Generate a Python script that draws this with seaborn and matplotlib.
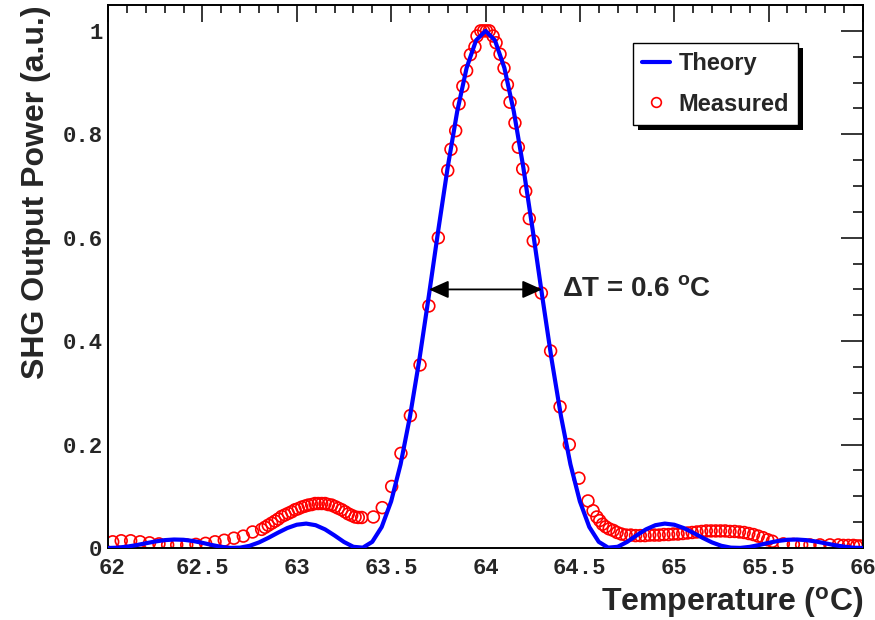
import numpy as np
import pandas as pd
import matplotlib
matplotlib.use("Agg")
import matplotlib.pyplot as plt
import seaborn as sns
from matplotlib.lines import Line2D
from matplotlib.patches import Rectangle, ArrowStyle
from matplotlib.transforms import IdentityTransform, ScaledTranslation
from matplotlib.ticker import MultipleLocator

# ---------------- data ----------------
theory_temp = [62.00, 62.05, 62.10, 62.15, 62.20, 62.25, 62.30, 62.35, 62.40, 62.45,
               62.50, 62.55, 62.60, 62.65, 62.70, 62.75, 62.80, 62.85, 62.90, 62.95,
               63.00, 63.05, 63.10, 63.15, 63.20, 63.25, 63.30, 63.35, 63.40, 63.45,
               63.50, 63.55, 63.60, 63.65, 63.70, 63.75, 63.80, 63.85, 63.90, 63.95,
               64.00, 64.05, 64.10, 64.15, 64.20, 64.25, 64.30, 64.35, 64.40, 64.45,
               64.50, 64.55, 64.60, 64.65, 64.70, 64.75, 64.80, 64.85, 64.90, 64.95,
               65.00, 65.05, 65.10, 65.15, 65.20, 65.25, 65.30, 65.35, 65.40, 65.45,
               65.50, 65.55, 65.60, 65.65, 65.70, 65.75, 65.80, 65.85, 65.90, 65.95,
               66.00]
theory_power = [0.0000, 0.0006, 0.0026, 0.0055, 0.0091, 0.0126, 0.0152, 0.0164, 0.0159, 0.0136,
                0.0100, 0.0058, 0.0022, 0.0002, 0.0007, 0.0042, 0.0108, 0.0197, 0.0295, 0.0386,
                0.0450, 0.0472, 0.0441, 0.0360, 0.0243, 0.0117, 0.0023, 0.0007, 0.0119, 0.0406,
                0.0901, 0.1617, 0.2546, 0.3653, 0.4881, 0.6150, 0.7368, 0.8440, 0.9284, 0.9817,
                1.0000, 0.9817, 0.9284, 0.8440, 0.7368, 0.6150, 0.4881, 0.3653, 0.2546, 0.1617,
                0.0901, 0.0406, 0.0119, 0.0007, 0.0023, 0.0117, 0.0243, 0.0360, 0.0441, 0.0472,
                0.0450, 0.0386, 0.0295, 0.0197, 0.0108, 0.0042, 0.0007, 0.0002, 0.0022, 0.0058,
                0.0100, 0.0136, 0.0159, 0.0164, 0.0152, 0.0126, 0.0091, 0.0055, 0.0026, 0.0006,
                0.0000]

meas_temp = [62.025, 62.07, 62.12, 62.17, 62.22, 62.27, 62.316, 62.364, 62.417, 62.466,
             62.517, 62.567, 62.616, 62.667, 62.717, 62.766, 62.814, 62.832, 62.849, 62.867,
             62.885, 62.902, 62.920, 62.938, 62.955, 62.973, 62.991, 63.008, 63.026, 63.044,
             63.061, 63.079, 63.097, 63.114, 63.132, 63.150, 63.167, 63.185, 63.203, 63.220,
             63.238, 63.256, 63.273, 63.291, 63.309, 63.326, 63.344, 63.406, 63.453, 63.503,
             63.552, 63.602, 63.653, 63.700, 63.750, 63.800, 63.817, 63.842, 63.860, 63.880,
             63.900, 63.920, 63.944, 63.955, 63.975, 63.990, 64.005, 64.020, 64.040, 64.056,
             64.077, 64.098, 64.116, 64.130, 64.156, 64.174, 64.197, 64.213, 64.232, 64.253,
             64.296, 64.345, 64.395, 64.444, 64.495, 64.543, 64.570, 64.590, 64.605, 64.620,
             64.637, 64.655, 64.677, 64.697, 64.720, 64.745, 64.770, 64.795, 64.820, 64.845,
             64.870, 64.895, 64.920, 64.945, 64.970, 64.995, 65.020, 65.045, 65.070, 65.095,
             65.120, 65.145, 65.170, 65.195, 65.220, 65.245, 65.270, 65.295, 65.320, 65.345,
             65.370, 65.395, 65.420, 65.445, 65.470, 65.495, 65.520, 65.578, 65.631, 65.675,
             65.719, 65.772, 65.825, 65.869, 65.896, 65.922, 65.949, 65.966, 65.984]
meas_power = [0.012, 0.014, 0.014, 0.012, 0.010, 0.008, 0.006, 0.006, 0.006, 0.007,
              0.009, 0.012, 0.015, 0.019, 0.023, 0.031, 0.036, 0.040, 0.044, 0.048,
              0.052, 0.056, 0.061, 0.064, 0.067, 0.070, 0.074, 0.076, 0.079, 0.081,
              0.083, 0.084, 0.086, 0.086, 0.086, 0.086, 0.084, 0.083, 0.080, 0.077,
              0.074, 0.070, 0.066, 0.063, 0.060, 0.059, 0.059, 0.060, 0.078, 0.119,
              0.183, 0.256, 0.354, 0.468, 0.600, 0.730, 0.771, 0.807, 0.859, 0.893,
              0.923, 0.954, 0.969, 0.990, 1.000, 1.000, 1.000, 1.000, 0.990, 0.977,
              0.955, 0.928, 0.896, 0.862, 0.822, 0.775, 0.733, 0.690, 0.637, 0.594,
              0.493, 0.381, 0.273, 0.200, 0.135, 0.091, 0.072, 0.060, 0.053, 0.046,
              0.041, 0.037, 0.034, 0.030, 0.027, 0.025, 0.025, 0.024, 0.024, 0.024,
              0.025, 0.025, 0.025, 0.026, 0.026, 0.027, 0.027, 0.028, 0.029, 0.030,
              0.031, 0.032, 0.033, 0.033, 0.033, 0.033, 0.033, 0.032, 0.032, 0.031,
              0.030, 0.028, 0.026, 0.023, 0.020, 0.016, 0.013, 0.008, 0.007, 0.006,
              0.006, 0.006, 0.006, 0.006, 0.005, 0.005, 0.005, 0.004, 0.004]

x_ticks = [62.0, 62.5, 63.0, 63.5, 64.0, 64.5, 65.0, 65.5, 66.0]
x_tick_labels = ["62", "62.5", "63", "63.5", "64", "64.5", "65", "65.5", "66"]
y_ticks = [0.0, 0.2, 0.4, 0.6, 0.8, 1.0]
y_tick_labels = ["0", "0.2", "0.4", "0.6", "0.8", "1"]

fwhm_start, fwhm_end, fwhm_level = 63.7, 64.3, 0.5

theory_df = pd.DataFrame({"Temperature": theory_temp, "Power": theory_power})
meas_df = pd.DataFrame({"Temperature": meas_temp, "Power": meas_power})

# ---------------- style ----------------
sns.set_style("white")
plt.rcParams["font.family"] = ["Liberation Sans", "DejaVu Sans"]
plt.rcParams["mathtext.fontset"] = "custom"
plt.rcParams["mathtext.rm"] = "Liberation Sans:bold"
plt.rcParams["mathtext.bf"] = "Liberation Sans:bold"
plt.rcParams["mathtext.it"] = "Liberation Sans:bold:italic"

fig = plt.figure(figsize=(8.75, 6.2), dpi=100)
fig.patch.set_facecolor("white")
ax = fig.add_axes([108 / 875, 1 - 548 / 620, 755 / 875, 543 / 620])

sns.scatterplot(data=meas_df, x="Temperature", y="Power", ax=ax, marker="o", s=72,
                facecolor="none", edgecolor="red", linewidth=1.2, zorder=2, legend=False)
sns.lineplot(data=theory_df, x="Temperature", y="Power", ax=ax, color="blue",
             linewidth=3.0, estimator=None, sort=False, zorder=3, legend=False)

ax.set_xlim(62, 66)
ax.set_ylim(0, 1.05)

tick_font = dict(fontfamily="Liberation Mono", fontweight="bold", fontsize=16)
ax.set_xticks(x_ticks, x_tick_labels, **tick_font)
ax.set_yticks(y_ticks, y_tick_labels, **tick_font)
ax.xaxis.set_minor_locator(MultipleLocator(0.1))
ax.yaxis.set_minor_locator(MultipleLocator(0.05))
ax.tick_params(axis="both", which="both", direction="in", top=True, right=True,
               width=1.1, color="black")
ax.tick_params(axis="x", which="major", length=12, pad=7)
ax.tick_params(axis="x", which="minor", length=6)
ax.tick_params(axis="y", which="major", length=15.5, pad=4)
ax.tick_params(axis="y", which="minor", length=7.5)
for sp in ax.spines.values():
    sp.set_linewidth(1.4)
    sp.set_color("black")

# nudge first x tick label slightly right, as in the reference
first_lab = ax.get_xticklabels()[0]
first_lab.set_transform(first_lab.get_transform() + ScaledTranslation(3 / 72, 0, fig.dpi_scale_trans))

ax.set_xlabel(r"Temperature ($\mathrm{^{o}}$C)", fontsize=23, fontweight="bold", loc="right")
ax.set_ylabel("SHG Output Power (a.u.)", fontsize=23, fontweight="bold", loc="top")
ax.xaxis.set_label_coords(1.0, -0.068)
ax.yaxis.set_label_coords(-0.076, 1.0)

# FWHM arrow
ax.annotate("", xy=(fwhm_start, fwhm_level), xytext=(fwhm_end, fwhm_level),
            arrowprops=dict(arrowstyle=ArrowStyle("<|-|>", head_length=0.67, head_width=0.3),
                            mutation_scale=18, color="black", lw=1.3,
                            shrinkA=0, shrinkB=0))
ax.text(64.405, fwhm_level, r"ΔT = 0.6 $\mathrm{^{o}}$C", fontsize=20, fontweight="bold",
        va="center", ha="left")

# legend
handles = [Line2D([], [], color="blue", lw=3.0),
           Line2D([], [], color="red", marker="o", ls="none", markersize=7,
                  markerfacecolor="none", markeredgewidth=1.2)]
leg = ax.legend(handles, ["Theory", "Measured"], loc="upper left",
                bbox_to_anchor=(633 / 875, 1 - 43 / 620), bbox_transform=fig.transFigure,
                borderaxespad=0, fancybox=False, framealpha=1, edgecolor="black",
                prop=dict(family="Liberation Sans", weight="bold", size=17),
                handlelength=1.2, handletextpad=0.35, borderpad=0.38, labelspacing=0.75)
leg.get_frame().set_linewidth(1.0)
leg.set_zorder(10)

fig.canvas.draw()
bb = leg.get_window_extent()
shadow = Rectangle((bb.x0 + 5, bb.y0 - 5), bb.width, bb.height, transform=IdentityTransform(),
                   facecolor="black", edgecolor="none", zorder=9.9, clip_on=False)
ax.add_artist(shadow)

fig.savefig("out.png", dpi=100, facecolor="white")
